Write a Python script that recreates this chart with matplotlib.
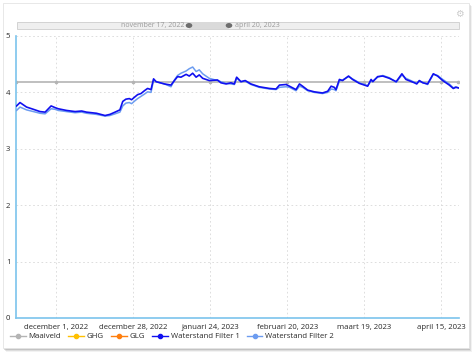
import numpy as np
import pandas as pd
import matplotlib
matplotlib.use("Agg")
import matplotlib.pyplot as plt
import matplotlib.dates as mdates
from matplotlib.patches import Rectangle, Circle
from matplotlib.lines import Line2D

plt.rcParams["font.family"] = ["Open Sans", "DejaVu Sans"]

START = pd.Timestamp("2022-11-17")

# days since 17 Nov 2022
days = [0.2, 1.4, 3.7, 6.1, 8.4, 10.2, 12.3, 13.7, 14.8, 17.7, 20.7, 23.0, 24.7,
        28.2, 31.2, 32.9, 34.7, 36.4, 37.4, 38.5, 39.7, 40.5, 41.4, 42.6, 43.8,
        45.0, 46.1, 47.3, 48.2, 49.1, 52.0, 54.3, 55.5, 56.6, 57.8, 59.6, 60.7,
        61.9, 63.1, 64.2, 65.4, 67.7, 70.6, 71.8, 73.6, 75.3, 76.5, 77.3, 78.8,
        80.3, 82.3, 85.2, 88.8, 91.1, 92.3, 94.6, 95.8, 98.1, 99.3, 100.4, 102.2,
        104.5, 107.4, 109.2, 110.4, 111.5, 112.1, 113.3, 114.4, 116.5, 117.9,
        120.3, 123.2, 124.4, 125.0, 126.7, 128.5, 130.8, 133.2, 135.2, 136.6,
        139.6, 140.4, 141.3, 142.5, 144.2, 146.2, 147.7, 149.5, 151.8, 153.2,
        154.1, 155.0]

filter1 = [3.76, 3.82, 3.74, 3.70, 3.66, 3.65, 3.76, 3.73, 3.71, 3.68, 3.66, 3.67,
           3.65, 3.63, 3.59, 3.61, 3.65, 3.69, 3.84, 3.88, 3.89, 3.87, 3.91, 3.96,
           3.98, 4.03, 4.07, 4.05, 4.24, 4.19, 4.15, 4.13, 4.21, 4.28, 4.27, 4.32,
           4.29, 4.34, 4.27, 4.31, 4.25, 4.21, 4.22, 4.17, 4.15, 4.17, 4.15, 4.27,
           4.19, 4.21, 4.15, 4.10, 4.07, 4.06, 4.13, 4.14, 4.11, 4.05, 4.15, 4.11,
           4.04, 4.01, 3.99, 4.02, 4.11, 4.09, 4.05, 4.23, 4.21, 4.29, 4.23, 4.16,
           4.11, 4.23, 4.19, 4.28, 4.29, 4.25, 4.19, 4.33, 4.23, 4.17, 4.15, 4.21,
           4.17, 4.15, 4.33, 4.29, 4.21, 4.13, 4.07, 4.09, 4.08]

filter2 = [3.68, 3.74, 3.69, 3.66, 3.63, 3.62, 3.71, 3.70, 3.68, 3.66, 3.64, 3.65,
           3.63, 3.61, 3.58, 3.59, 3.62, 3.65, 3.76, 3.81, 3.82, 3.80, 3.84, 3.89,
           3.93, 3.97, 4.01, 4.00, 4.22, 4.19, 4.15, 4.10, 4.22, 4.30, 4.34, 4.38,
           4.42, 4.45, 4.37, 4.40, 4.33, 4.25, 4.21, 4.19, 4.16, 4.15, 4.14, 4.25,
           4.19, 4.20, 4.14, 4.09, 4.06, 4.05, 4.09, 4.10, 4.09, 4.03, 4.11, 4.09,
           4.03, 4.00, 3.98, 4.00, 4.06, 4.05, 4.03, 4.20, 4.22, 4.28, 4.24, 4.17,
           4.12, 4.20, 4.20, 4.27, 4.30, 4.26, 4.18, 4.31, 4.25, 4.18, 4.16, 4.20,
           4.18, 4.14, 4.32, 4.30, 4.23, 4.15, 4.08, 4.10, 4.08]

maaiveld_days = [0, 14, 41, 68, 95, 122, 149, 155]
maaiveld = [4.19] * len(maaiveld_days)

tick_dates = ["2022-12-01", "2022-12-28", "2023-01-24", "2023-02-20",
              "2023-03-19", "2023-04-15"]
tick_labels = ["december 1, 2022", "december 28, 2022", "januari 24, 2023",
               "februari 20, 2023", "maart 19, 2023", "april 15, 2023"]
y_ticks = [0, 1, 2, 3, 4, 5]

C_MAAI = "#b4b4b4"
C_GHG = "#ffc000"
C_GLG = "#ff7f0e"
C_F1 = "#1010f0"
C_F2 = "#6c9cf0"
C_AXIS = "#7cc4ec"


def to_dates(offsets):
    return [START + pd.Timedelta(days=d) for d in offsets]


W, H = 477, 359
fig = plt.figure(figsize=(W / 100, H / 100), dpi=100)
fig.patch.set_facecolor("white")

# card with soft shadow
for i, a in enumerate([0.10, 0.18, 0.28]):
    fig.patches.append(Rectangle((3 / W + (3 - i) / W, 1 - (349 + 3 - i) / H),
                                 466 / W, 346 / H, transform=fig.transFigure,
                                 facecolor="#808080", edgecolor="none", alpha=a, zorder=-3))
fig.patches.append(Rectangle((3 / W, 1 - 348 / H), 466 / W, 345 / H,
                             transform=fig.transFigure, facecolor="white",
                             edgecolor="#e4e4e4", lw=0.6, zorder=-2))

ax = fig.add_axes([16 / W, 1 - 318 / H, (459 - 16) / W, (318 - 36) / H])
ax.set_facecolor("none")
ax.set_zorder(2)

ax.plot(to_dates(maaiveld_days), maaiveld, color=C_MAAI, lw=1.2, marker="o", ms=1.6, zorder=2)
ax.plot(to_dates(days), filter2, color=C_F2, lw=1.1, zorder=3)
ax.plot(to_dates(days), filter1, color=C_F1, lw=1.2, zorder=4)

ax.set_xlim(START, START + pd.Timedelta(days=155.2))
ax.set_ylim(0, 5)
ax.set_yticks(y_ticks)
ax.set_xticks(pd.to_datetime(tick_dates))
ax.set_xticklabels(tick_labels)
ax.tick_params(length=0, labelsize=5.6, colors="#2a2a2a", pad=4)
ax.tick_params(axis="y", pad=4)
ax.grid(True, color="#d8d8d8", lw=0.6, ls=(0, (2, 3)))
for s in ["top", "right"]:
    ax.spines[s].set_visible(False)
for s in ["left", "bottom"]:
    ax.spines[s].set_color(C_AXIS)
    ax.spines[s].set_linewidth(1.2)

# legend
handles = [Line2D([], [], color=c, marker="o", ms=3, lw=1) for c in [C_MAAI, C_GHG, C_GLG, C_F1, C_F2]]
names = ["Maaiveld", "GHG", "GLG", "Waterstand Filter 1", "Waterstand Filter 2"]
fig.legend(handles, names, loc="center left", bbox_to_anchor=(3 / W, 1 - 336.5 / H),
           ncol=5, frameon=False, fontsize=5.6, handlelength=2.0, handletextpad=0.4,
           columnspacing=0.9, labelcolor="#2a2a2a")

# range slider
fig.patches.append(Rectangle((17 / W, 1 - 29 / H), 442 / W, 7 / H, transform=fig.transFigure,
                             facecolor="#efefef", edgecolor="#cdcdcd", lw=0.6, zorder=1))
fig.patches.append(Rectangle((189 / W, 1 - 29 / H), 40 / W, 7 / H, transform=fig.transFigure,
                             facecolor="#dadada", edgecolor="none", zorder=1))
for hx in [189, 229]:
    fig.patches.append(Circle((hx / W, 1 - 25.5 / H), 3.3 / W, transform=fig.transFigure,
                              facecolor="#6e6e6e", edgecolor="none", zorder=2))
fig.text(184 / W, 1 - 25.5 / H, "november 17, 2022", ha="right", va="center",
         fontsize=5.0, color="#9a9a9a")
fig.text(235 / W, 1 - 25.5 / H, "april 20, 2023", ha="left", va="center",
         fontsize=5.0, color="#9a9a9a")
fig.text(459 / W, 1 - 14 / H, "\u2699", ha="center", va="center", fontsize=7,
         color="#cccccc", family="DejaVu Sans")

fig.savefig("out.png", dpi=100)
